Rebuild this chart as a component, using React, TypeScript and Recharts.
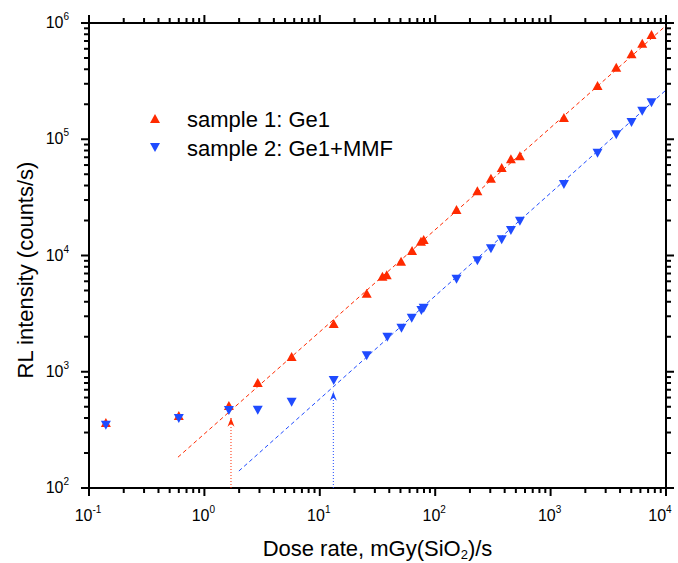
import { ScatterChart, Scatter, XAxis, YAxis } from "recharts";

const FONT = '"Liberation Sans", Arial, Helvetica, sans-serif';
const RED = "#ff2a00";
const BLUE = "#1f4bff";

// sample 1: Ge1
const doseRate1 = [0.14, 0.6, 1.63, 2.9, 5.7, 13.2, 25.5, 34.9, 38, 50.6, 63, 75.3, 79.5, 153, 232, 304, 377, 453, 542, 1304, 2551, 3705, 5025, 6223, 7487];
const intensity1 = [362, 416, 507, 800, 1340, 2575, 4690, 6570, 6760, 8850, 10930, 13150, 13600, 24600, 35650, 45800, 56600, 67200, 71300, 152400, 287000, 412800, 537500, 663700, 788000];

// sample 2: Ge1+MMF
const doseRate2 = [0.14, 0.6, 1.63, 2.9, 5.7, 13.2, 25.5, 38.5, 51, 62.6, 75.9, 79.5, 153, 232, 304, 377, 453, 542, 1304, 2551, 3705, 5025, 6223, 7487];
const intensity2 = [350, 400, 469, 472, 553, 850, 1384, 2003, 2393, 2917, 3398, 3557, 6310, 9090, 11530, 13780, 16570, 19920, 41200, 76600, 110200, 140700, 176000, 208000];

// linear fits (log-log), drawn as end points
const fit1X = [0.59, 10000];
const fit1Y = [184, 950000];
const fit2X = [1.99, 10000];
const fit2Y = [140, 265000];

// threshold arrows
const arrow1X = [1.7, 1.7];
const arrow1Y = [100, 403];
const arrow2X = [13.1, 13.1];
const arrow2Y = [100, 674];

const xMajor = [0.1, 1, 10, 100, 1000, 10000];
const yMajor = [100, 1000, 10000, 100000, 1000000];
const minorSteps = [2, 3, 4, 5, 6, 7, 8, 9];

const zip = (xs: number[], ys: number[]) => xs.map((x, i) => ({ x, y: ys[i], head: i === xs.length - 1 }));

const withMinors = (majors: number[]) => {
  const out: number[] = [];
  majors.forEach((m, i) => {
    out.push(m);
    if (i < majors.length - 1) minorSteps.forEach((k) => out.push(+(m * k).toPrecision(6)));
  });
  return out;
};

const xTicks = withMinors(xMajor);
const yTicks = withMinors(yMajor);

const isMajor = (v: number, majors: number[]) => majors.some((m) => Math.abs(m - v) / m < 1e-6);

const makeTick = (side: "bottom" | "top" | "left" | "right", majors: number[], showLabel: boolean) =>
  function Tick(props: any) {
    const { x, y, payload } = props;
    const v = payload.value;
    const major = isMajor(v, majors);
    const len = major ? 8 : 5;
    let x2 = x;
    let y2 = y;
    if (side === "bottom") y2 = y + len;
    if (side === "top") y2 = y - len;
    if (side === "left") x2 = x - len;
    if (side === "right") x2 = x + len;
    const exp = Math.round(Math.log10(v));
    // keep the last label inside the picture, as the original does
    const lx = Math.min(x - 1, 660);
    return (
      <g>
        <line x1={x} y1={y} x2={x2} y2={y2} stroke="#000" strokeWidth={2} />
        {showLabel && major && side === "bottom" && (
          <text x={lx} y={y + 33} textAnchor="middle" fontFamily={FONT} fontSize={16} fill="#000">
            <tspan>10</tspan>
            <tspan dy={-8} fontSize={10}>{exp}</tspan>
          </text>
        )}
        {showLabel && major && side === "left" && (
          <text x={x - 20} y={y + 5} textAnchor="end" fontFamily={FONT} fontSize={16} fill="#000">
            <tspan>10</tspan>
            <tspan dy={-8} fontSize={10}>{exp}</tspan>
          </text>
        )}
      </g>
    );
  };

const triangle = (color: string, up: boolean) =>
  function Marker(props: any) {
    const { cx, cy } = props;
    if (cx == null || cy == null) return <g />;
    const pts = up
      ? `${cx},${cy - 5} ${cx - 5},${cy + 4} ${cx + 5},${cy + 4}`
      : `${cx},${cy + 5} ${cx - 5},${cy - 4} ${cx + 5},${cy - 4}`;
    return <polygon points={pts} fill={color} />;
  };

const arrowHead = (color: string) =>
  function Head(props: any) {
    const { cx, cy, payload } = props;
    if (!payload || !payload.head) return <g />;
    return <polygon points={`${cx},${cy} ${cx - 3.5},${cy + 9} ${cx},${cy + 6} ${cx + 3.5},${cy + 9}`} fill={color} />;
  };

const noDot = () => <g />;

const axisLine = { stroke: "#000", strokeWidth: 2 };

export default function App() {
  return (
    <div style={{ position: "absolute", left: 0, top: 0, width: 678, height: 563, background: "#fff" }}>
      <ScatterChart width={678} height={563} margin={{ top: 22, right: 11, bottom: 0, left: 0 }}>
        <XAxis
          xAxisId="b"
          type="number"
          dataKey="x"
          scale="log"
          domain={[0.1, 10000]}
          allowDataOverflow
          ticks={xTicks}
          interval={0}
          height={75}
          tickSize={0}
          tickMargin={0}
          tickLine={false}
          axisLine={axisLine}
          tick={makeTick("bottom", xMajor, true)}
          label={{
            content: (p: any) => {
              const vb = p.viewBox || { x: 89, y: 488, width: 577 };
              return (
                <text x={vb.x + vb.width / 2} y={vb.y + 68} textAnchor="middle" fontFamily={FONT} fontSize={22} fill="#000">
                  Dose rate, mGy(SiO<tspan dy={3} fontSize={13}>2</tspan>
                  <tspan dy={-3}>)/s</tspan>
                </text>
              );
            },
          }}
        />
        <XAxis
          xAxisId="t"
          orientation="top"
          type="number"
          dataKey="x"
          scale="log"
          domain={[0.1, 10000]}
          allowDataOverflow
          ticks={xTicks}
          interval={0}
          height={1}
          tickSize={0}
          tickMargin={0}
          tickLine={false}
          axisLine={axisLine}
          tick={makeTick("top", xMajor, false)}
        />
        <YAxis
          yAxisId="l"
          type="number"
          dataKey="y"
          scale="log"
          domain={[100, 1000000]}
          allowDataOverflow
          ticks={yTicks}
          interval={0}
          width={89}
          tickSize={0}
          tickMargin={0}
          tickLine={false}
          axisLine={axisLine}
          tick={makeTick("left", yMajor, true)}
          label={{
            content: () => (
              <text
                x={33}
                y={270}
                transform="rotate(-90 33 270)"
                textAnchor="middle"
                fontFamily={FONT}
                fontSize={22}
                fill="#000"
              >
                RL intensity (counts/s)
              </text>
            ),
          }}
        />
        <YAxis
          yAxisId="r"
          orientation="right"
          type="number"
          dataKey="y"
          scale="log"
          domain={[100, 1000000]}
          allowDataOverflow
          ticks={yTicks}
          interval={0}
          width={1}
          tickSize={0}
          tickMargin={0}
          tickLine={false}
          axisLine={axisLine}
          tick={makeTick("right", yMajor, false)}
        />

        <Scatter
          xAxisId="b"
          yAxisId="l"
          data={zip(fit1X, fit1Y)}
          line={{ stroke: RED, strokeWidth: 1, strokeDasharray: "4 3" }}
          shape={noDot}
          isAnimationActive={false}
        />
        <Scatter
          xAxisId="b"
          yAxisId="l"
          data={zip(fit2X, fit2Y)}
          line={{ stroke: BLUE, strokeWidth: 1, strokeDasharray: "4 3" }}
          shape={noDot}
          isAnimationActive={false}
        />
        <Scatter
          xAxisId="b"
          yAxisId="l"
          data={zip(arrow1X, arrow1Y)}
          line={{ stroke: RED, strokeWidth: 1, strokeDasharray: "1 2" }}
          shape={arrowHead(RED)}
          isAnimationActive={false}
        />
        <Scatter
          xAxisId="b"
          yAxisId="l"
          data={zip(arrow2X, arrow2Y)}
          line={{ stroke: BLUE, strokeWidth: 1, strokeDasharray: "1 2" }}
          shape={arrowHead(BLUE)}
          isAnimationActive={false}
        />
        <Scatter
          name="sample 1: Ge1"
          xAxisId="b"
          yAxisId="l"
          data={zip(doseRate1, intensity1)}
          shape={triangle(RED, true)}
          isAnimationActive={false}
        />
        <Scatter
          name="sample 2: Ge1+MMF"
          xAxisId="b"
          yAxisId="l"
          data={zip(doseRate2, intensity2)}
          shape={triangle(BLUE, false)}
          isAnimationActive={false}
        />
      </ScatterChart>

      <svg width={678} height={563} style={{ position: "absolute", left: 0, top: 0, pointerEvents: "none" }}>
        <polygon points="155,114 150,123 160,123" fill={RED} />
        <text x={187} y={127} fontFamily={FONT} fontSize={22} fill="#000">
          sample 1: Ge1
        </text>
        <polygon points="155,152 150,143 160,143" fill={BLUE} />
        <text x={187} y={156} fontFamily={FONT} fontSize={22} fill="#000">
          sample 2: Ge1+MMF
        </text>
      </svg>
    </div>
  );
}
